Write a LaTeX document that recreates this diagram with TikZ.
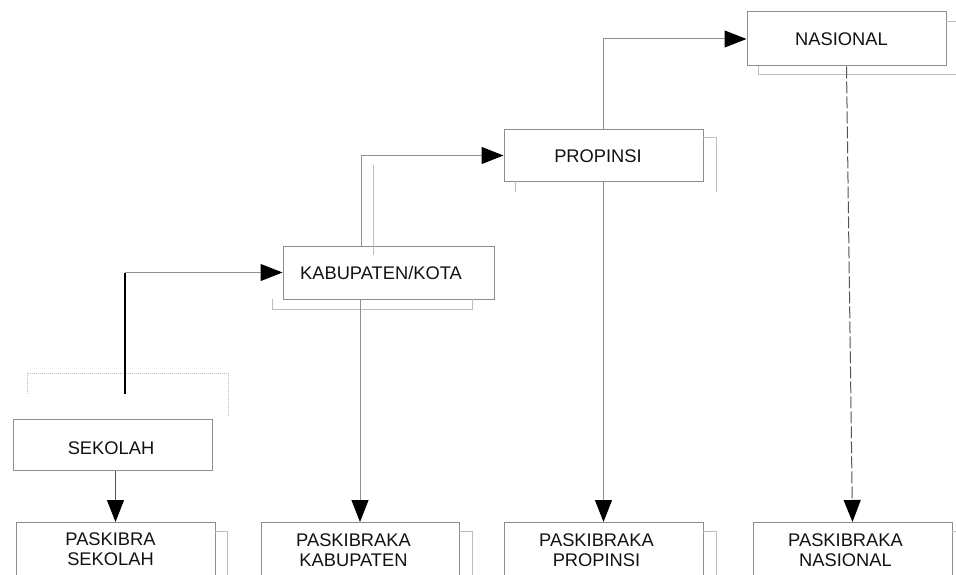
\documentclass[tikz,border=0pt]{standalone}
\usepackage{fontspec}
\setmainfont{Liberation Sans}
\usetikzlibrary{arrows.meta}
\definecolor{boxgray}{HTML}{8E8E8E}
\definecolor{shadowgray}{HTML}{BDBDBD}
\definecolor{conngray}{HTML}{909090}
\definecolor{darkconn}{HTML}{555555}
\definecolor{txtcol}{HTML}{111111}
\begin{document}
\begin{tikzpicture}[x=1pt,y=1pt,
  box/.style={draw=boxgray,line width=1pt,rectangle,inner sep=0pt},
  lbl/.style={text=txtcol,font=\fontsize{18.3}{20}\selectfont,align=center,inner sep=0pt},
  shadowline/.style={draw=shadowgray,line width=1pt},
  conn/.style={draw=conngray,line width=1pt,-{Triangle[length=22pt,width=17pt,color=black]}},
]
\useasboundingbox (0,0) rectangle (956,-575);
\clip (0,0) rectangle (956,-575);

% upper boxes
\node[box,minimum width=199,minimum height=51] (sek)  at (112.5,-444.5) {};
\node[box,minimum width=211,minimum height=53] (kab)  at (388.5,-272.5) {};
\node[box,minimum width=199,minimum height=51] (prop) at (603.5,-155.5) {};
\node[box,minimum width=199,minimum height=54] (nas)  at (846.5,-39) {};

% bottom boxes
\node[box,anchor=north,minimum width=199,minimum height=62] (ps) at (115.5,-522) {};
\node[box,anchor=north,minimum width=198,minimum height=62] (pk) at (360,-522) {};
\node[box,anchor=north,minimum width=199,minimum height=62] (pp) at (603.5,-522) {};
\node[box,anchor=north,minimum width=199,minimum height=62] (pn) at (852.5,-522) {};

% texts
\node[lbl] (tsek)  at (111,-448.5) {SEKOLAH};
\node[lbl] (tkab)  at (381,-273) {KABUPATEN/KOTA};
\node[lbl] (tprop) at (598,-156) {PROPINSI};
\node[lbl] (tnas)  at (841.5,-39.5) {NASIONAL};
\node[lbl] (tps) at (110.5,-549.5) {PASKIBRA\\SEKOLAH};
\node[lbl] (tpk) at (353.5,-550) {PASKIBRAKA\\KABUPATEN};
\node[lbl] (tpp) at (596.5,-550) {PASKIBRAKA\\PROPINSI};
\node[lbl] (tpn) at (845.5,-550) {PASKIBRAKA\\NASIONAL};

% shadow / ghost lines
\draw[shadowline,densely dotted] (27,-394) -- (27,-373) -- (228,-373) -- (228,-417);
\draw[shadowline] (272,-299) -- (272,-309) -- (472,-309) -- (472,-299);
\draw[shadowline] (373,-165) -- (373,-255);
\draw[shadowline] (703,-138) -- (716,-138) -- (716,-192);
\draw[shadowline] (515,-181) -- (515,-192);
\draw[shadowline] (946,-22) -- (956,-22);
\draw[shadowline] (758,-66) -- (758,-75) -- (956,-75);
\draw[shadowline] (215,-531) -- (227,-531) -- (227,-575);
\draw[shadowline] (459,-531) -- (472,-531) -- (472,-575);
\draw[shadowline] (703,-531) -- (716,-531) -- (716,-575);
\draw[shadowline] (952,-531) -- (956,-531);

% connectors
\coordinate (s0) at (125,-394);
\draw[conn] (s0) |- (kab.west);
\draw[black,line width=2pt] (s0) -- (s0 |- kab.west);
\draw[conn] ([xshift=-27.5]kab.north) |- (prop.west);
\draw[conn] ([xshift=-0.5]prop.north) |- (nas.west);
\draw[conn,draw=darkconn] (ps.north |- sek.south) -- (ps.north);
\draw[conn] (pk.north |- kab.south) -- (pk.north);
\draw[conn] (prop.south) -- (pp.north);
\draw[conn,draw=darkconn,dash pattern=on 12pt off 3pt] (nas.south) -- (pn.north);
\end{tikzpicture}
\end{document}
